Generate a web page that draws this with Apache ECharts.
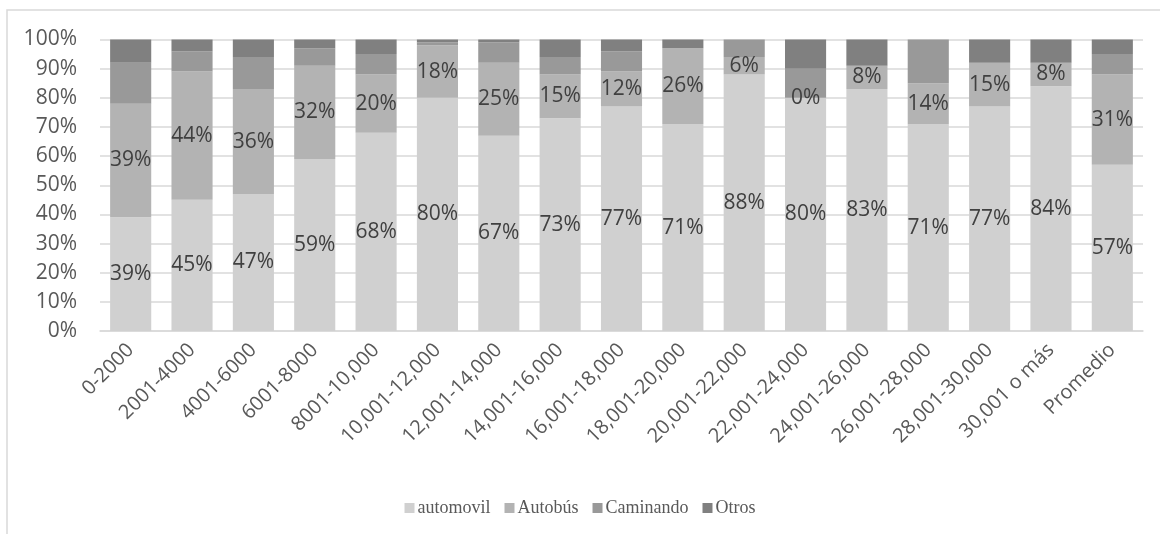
<!DOCTYPE html>
<html>
<head>
<meta charset="utf-8">
<script src="https://cdn.jsdelivr.net/npm/echarts@6/dist/echarts.min.js"></script>
<style>
  html, body { margin: 0; padding: 0; background: #fff; }
  #chart { width: 1160px; height: 534px; }
</style>
</head>
<body>
<div id="chart"></div>
<script>
// Income brackets (pesos) and the share of trips by transport mode
const categories = ['0-2000', '2001-4000', '4001-6000', '6001-8000', '8001-10,000',
  '10,001-12,000', '12,001-14,000', '14,001-16,000', '16,001-18,000', '18,001-20,000',
  '20,001-22,000', '22,001-24,000', '24,001-26,000', '26,001-28,000', '28,001-30,000',
  '30,001 o más', 'Promedio'];
const automovil = [39, 45, 47, 59, 68, 80, 67, 73, 77, 71, 88, 80, 83, 71, 77, 84, 57];
const autobus   = [39, 44, 36, 32, 20, 18, 25, 15, 12, 26, 6, 0, 8, 14, 15, 8, 31];
const caminando = [14, 7, 11, 6, 7, 1, 7, 6, 7, 0, 6, 10, 0, 15, 0, 0, 7];
const otros     = [8, 4, 6, 3, 5, 1, 1, 6, 4, 3, 0, 10, 9, 0, 8, 8, 5];
const yTicks = [0, 10, 20, 30, 40, 50, 60, 70, 80, 90, 100];

const sansFont = '"Open Sans", "Noto Sans", sans-serif';

function barSeries(name, data, color, showLabel) {
  return {
    name: name,
    type: 'bar',
    stack: 'total',
    barCategoryGap: '33%',
    data: data,
    itemStyle: { color: color },
    label: {
      show: showLabel,
      position: 'inside',
      formatter: p => p.value + '%',
      color: '#404040',
      fontFamily: sansFont,
      fontSize: 21
    },
    emphasis: { disabled: true }
  };
}

const chart = echarts.init(document.getElementById('chart'));
chart.setOption({
  animation: false,
  backgroundColor: '#fff',
  graphic: [{
    type: 'rect',
    shape: { x: 7, y: 10, width: 1200, height: 600 },
    style: { fill: 'none', stroke: '#d9d9d9', lineWidth: 1.5 },
    z: -10
  }],
  grid: { left: 100, right: 17, top: 39.5, bottom: 203, containLabel: false },
  legend: {
    top: 494,
    left: 'center',
    itemWidth: 10,
    itemHeight: 10,
    itemGap: 14,
    icon: 'rect',
    textStyle: { fontFamily: '"Liberation Serif", "Times New Roman", serif', fontSize: 18, color: '#595959', padding: [0, 0, 0, -2] },
    data: ['automovil', 'Autobús', 'Caminando', 'Otros']
  },
  xAxis: {
    type: 'category',
    data: categories,
    axisLine: { lineStyle: { color: '#d9d9d9', width: 1.5 } },
    axisTick: { show: false },
    axisLabel: {
      rotate: 45,
      interval: 0,
      margin: 16,
      color: '#595959',
      fontFamily: sansFont,
      fontSize: 20
    }
  },
  yAxis: {
    type: 'value',
    min: 0,
    max: 100,
    interval: 10,
    axisLine: { show: false },
    axisTick: { show: false },
    splitLine: { lineStyle: { color: '#d9d9d9', width: 1.5 } },
    axisLabel: {
      margin: 23,
      color: '#595959',
      fontFamily: sansFont,
      fontSize: 21,
      formatter: v => yTicks.includes(v) ? v + '%' : ''
    }
  },
  series: [
    barSeries('automovil', automovil, '#d0d0d0', true),
    barSeries('Autobús', autobus, '#b3b3b3', true),
    barSeries('Caminando', caminando, '#999999', false),
    barSeries('Otros', otros, '#808080', false)
  ]
});
</script>
</body>
</html>
